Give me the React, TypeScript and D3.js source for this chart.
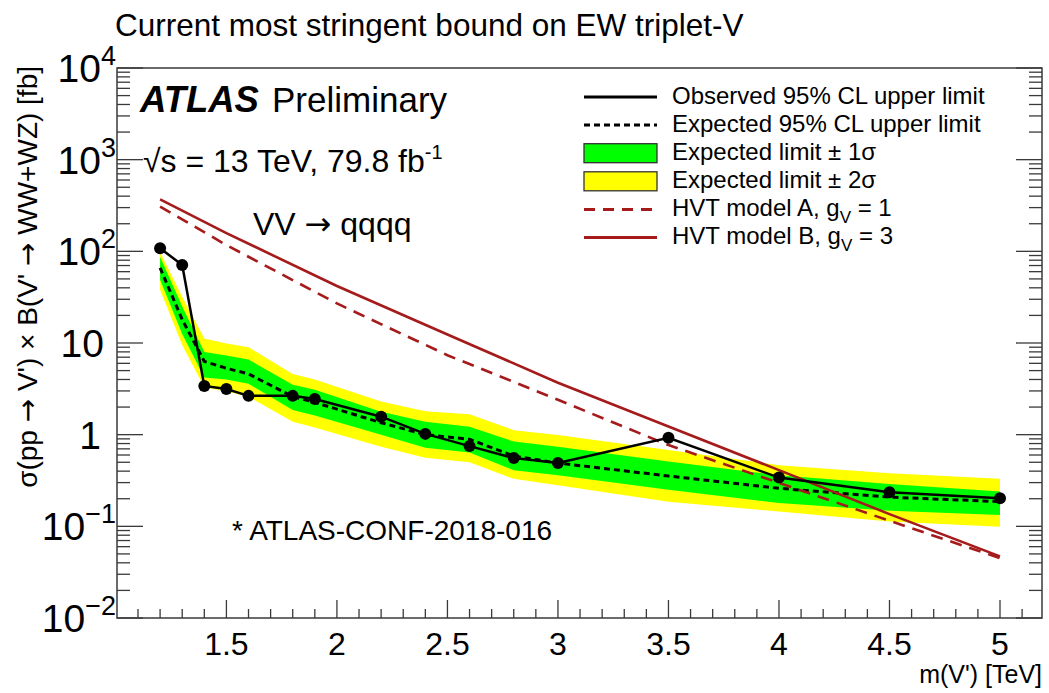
import React from 'react';
import * as d3 from 'd3';

// Resonance masses (TeV) at which the limits are evaluated
const masses = [1.2, 1.3, 1.4, 1.5, 1.6, 1.8, 1.9, 2.2, 2.4, 2.6, 2.8, 3.0, 3.5, 4.0, 4.5, 5.0];
// Observed 95% CL upper limit [fb]
const observed = [108, 71, 3.4, 3.15, 2.65, 2.65, 2.45, 1.57, 1.02, 0.75, 0.555, 0.49, 0.925, 0.34, 0.236, 0.203];
// Expected 95% CL upper limit and its +-1 sigma / +-2 sigma bands [fb]
const expected = [66, 18, 6.3, 5.3, 4.6, 2.6, 2.25, 1.35, 1.0, 0.89, 0.585, 0.49, 0.354, 0.26, 0.208, 0.186];
const minus2 = [38, 9.5, 3.3, 2.95, 2.6, 1.38, 1.2, 0.74, 0.56, 0.5, 0.33, 0.28, 0.186, 0.145, 0.113, 0.099];
const minus1 = [49, 12.5, 4.2, 4.0, 3.6, 1.86, 1.62, 1.0, 0.72, 0.64, 0.41, 0.36, 0.25, 0.18, 0.148, 0.133];
const plus1 = [87, 25, 8.0, 7.3, 6.6, 3.5, 3.1, 1.78, 1.38, 1.22, 0.84, 0.74, 0.51, 0.36, 0.29, 0.24];
const plus2 = [98, 32, 11.2, 9.9, 9.0, 4.6, 4.0, 2.3, 1.8, 1.67, 1.12, 0.99, 0.68, 0.465, 0.38, 0.33];

// HVT benchmark cross sections [fb]
const hvtMasses = [1.2, 1.5, 2.0, 2.5, 3.0, 3.5, 4.0, 4.5, 5.0];
const hvtA = [307, 117, 27, 7.36, 2.4, 0.77, 0.298, 0.115, 0.045];
const hvtB = [368, 158, 41.9, 12.4, 3.69, 1.23, 0.41, 0.136, 0.047];

// Axis ticks
const xMajorTicks = [1.5, 2, 2.5, 3, 3.5, 4, 4.5, 5];
const xTickLabels = ['1.5', '2', '2.5', '3', '3.5', '4', '4.5', '5'];
const yDecades = [-2, -1, 0, 1, 2, 3, 4];

const legendLabels = [
  'Observed 95% CL upper limit',
  'Expected 95% CL upper limit',
  'Expected limit \u00b1 1\u03c3',
  'Expected limit \u00b1 2\u03c3',
  'HVT model A, g',
  'HVT model B, g',
];

const W = 1049;
const H = 693;
const F = { left: 117, right: 1042, top: 68, bottom: 618 };
const FONT = "'Liberation Sans', Arial, Helvetica, sans-serif";
const ARROW_FONT = "'DejaVu Sans', sans-serif";
const DARKRED = '#a51b1b';
const FRAME = '#3a3a3a';

function Arrow() {
  return <tspan fontFamily={ARROW_FONT}>{'\u2192'}</tspan>;
}

export default function App() {
  const x = d3.scaleLinear().domain([1.005, 5.19]).range([F.left, F.right]);
  const y = d3.scaleLog().domain([1e-2, 1e4]).range([F.bottom, F.top]);

  const idx = masses.map((_, i) => i);
  const band = (lo: number[], hi: number[]) =>
    d3.area<number>().x((i) => x(masses[i])).y0((i) => y(lo[i])).y1((i) => y(hi[i]))(idx) || '';
  const line = (vals: number[], ms: number[]) =>
    d3.line<number>().x((i) => x(ms[i])).y((i) => y(vals[i]))(vals.map((_, i) => i)) || '';

  const xMinor = d3.range(11, 52).map((v) => v / 10).filter((v) => Math.abs(v * 2 - Math.round(v * 2)) > 1e-6);
  const yMinor: number[] = [];
  for (let e = -2; e < 4; e++) for (let k = 2; k <= 9; k++) yMinor.push(k * Math.pow(10, e));

  const legX0 = 584;
  const legX1 = 657;
  const legBase = 103.5;
  const legStep = 28.1;

  return (
    <svg width={W} height={H} style={{ position: 'absolute', left: 0, top: 0, background: '#fff' }} fontFamily={FONT}>
      <rect x={0} y={0} width={W} height={H} fill="#fff" />
      {/* title */}
      <text x={115} y={36} fontSize={31.5} fill="#000">Current most stringent bound on EW triplet-V</text>

      {/* bands */}
      <path d={band(minus2, plus2)} fill="#ffff00" />
      <path d={band(minus1, plus1)} fill="#00ff00" />
      {/* expected */}
      <path d={line(expected, masses)} fill="none" stroke="#000" strokeWidth={3} strokeDasharray="6 4" />
      {/* HVT models */}
      <path d={line(hvtA, hvtMasses)} fill="none" stroke={DARKRED} strokeWidth={2.6} strokeDasharray="12 8" />
      <path d={line(hvtB, hvtMasses)} fill="none" stroke={DARKRED} strokeWidth={2.6} />
      {/* observed */}
      <path d={line(observed, masses)} fill="none" stroke="#000" strokeWidth={2.5} />
      {masses.map((m, i) => (
        <circle key={m} cx={x(m)} cy={y(observed[i])} r={6} fill="#000" />
      ))}

      {/* frame */}
      <rect x={F.left} y={F.top} width={F.right - F.left} height={F.bottom - F.top} fill="none" stroke={FRAME} strokeWidth={1.5} />

      {/* x ticks */}
      {xMajorTicks.map((t) => (
        <line key={'xM' + t} x1={x(t)} x2={x(t)} y1={F.bottom} y2={F.bottom - 18} stroke={FRAME} strokeWidth={1.3} />
      ))}
      {xMinor.map((t) => (
        <line key={'xm' + t} x1={x(t)} x2={x(t)} y1={F.bottom} y2={F.bottom - 9} stroke={FRAME} strokeWidth={1.3} />
      ))}
      {xMajorTicks.map((t, i) => (
        <text key={'xl' + t} x={x(t)} y={655} fontSize={32} textAnchor="middle" fill="#000">{xTickLabels[i]}</text>
      ))}
      <text x={F.right} y={683} fontSize={25} textAnchor="end" fill="#000">m(V') [TeV]</text>

      {/* y ticks, left and right */}
      {yDecades.map((e) => (
        <g key={'yM' + e}>
          <line x1={F.left} x2={F.left + 26} y1={y(Math.pow(10, e))} y2={y(Math.pow(10, e))} stroke={FRAME} strokeWidth={1.3} />
          <line x1={F.right} x2={F.right - 26} y1={y(Math.pow(10, e))} y2={y(Math.pow(10, e))} stroke={FRAME} strokeWidth={1.3} />
        </g>
      ))}
      {yMinor.map((v) => (
        <g key={'ym' + v}>
          <line x1={F.left} x2={F.left + 13} y1={y(v)} y2={y(v)} stroke={FRAME} strokeWidth={1.3} />
          <line x1={F.right} x2={F.right - 13} y1={y(v)} y2={y(v)} stroke={FRAME} strokeWidth={1.3} />
        </g>
      ))}
      {yDecades.map((e) => {
        const yy = y(Math.pow(10, e)) + 14;
        if (e === 0) return <text key={'yl' + e} x={101} y={yy} fontSize={39} textAnchor="end">1</text>;
        if (e === 1) return <text key={'yl' + e} x={104} y={yy} fontSize={39} textAnchor="end">10</text>;
        const sup = e < 0 ? '\u2212' + Math.abs(e) : String(e);
        return (
          <text key={'yl' + e} x={116} y={yy} fontSize={39} textAnchor="end">
            10<tspan fontSize={27} dy={-17}>{sup}</tspan>
          </text>
        );
      })}
      <text transform={`translate(37,66) rotate(-90)`} fontSize={28} textAnchor="end" fill="#000">
        {'\u03c3(pp '}<Arrow />{' V\') \u00d7 B(V\' '}<Arrow />{' WW+WZ) [fb]'}
      </text>

      {/* annotations */}
      <text x={140} y={112} fontSize={36.5} fontWeight="bold" fontStyle="italic">ATLAS</text>
      <text x={272} y={112} fontSize={35}>Preliminary</text>
      <text x={143} y={172} fontSize={32}>
        {'\u221as = 13 TeV, 79.8 fb'}<tspan fontSize={20} dy={-13}>-1</tspan>
      </text>
      <text x={253} y={235} fontSize={32}>{'VV '}<Arrow />{' qqqq'}</text>
      <text x={232} y={540} fontSize={28}>* ATLAS-CONF-2018-016</text>

      {/* legend */}
      <g>
        <line x1={legX0} x2={legX1} y1={legBase - 6.5} y2={legBase - 6.5} stroke="#000" strokeWidth={3} />
        <line x1={legX0} x2={legX1} y1={legBase + legStep - 6.5} y2={legBase + legStep - 6.5} stroke="#000" strokeWidth={3} strokeDasharray="6 4" />
        <rect x={legX0} y={legBase + 2 * legStep - 16} width={legX1 - legX0} height={19} fill="#00ff00" stroke="#333" strokeWidth={1.3} />
        <rect x={legX0} y={legBase + 3 * legStep - 16} width={legX1 - legX0} height={19} fill="#ffff00" stroke="#333" strokeWidth={1.3} />
        <line x1={legX0} x2={legX1} y1={legBase + 4 * legStep - 6.5} y2={legBase + 4 * legStep - 6.5} stroke={DARKRED} strokeWidth={3} strokeDasharray="11 8" />
        <line x1={legX0} x2={legX1} y1={legBase + 5 * legStep - 6.5} y2={legBase + 5 * legStep - 6.5} stroke={DARKRED} strokeWidth={3} />
        {legendLabels.map((lab, i) => (
          <text key={lab} x={672} y={legBase + i * legStep} fontSize={24} fill="#000">
            {lab}
            {i === 4 && (<><tspan fontSize={17} dy={7}>V</tspan><tspan dy={-7}> = 1</tspan></>)}
            {i === 5 && (<><tspan fontSize={17} dy={7}>V</tspan><tspan dy={-7}> = 3</tspan></>)}
          </text>
        ))}
      </g>
    </svg>
  );
}
